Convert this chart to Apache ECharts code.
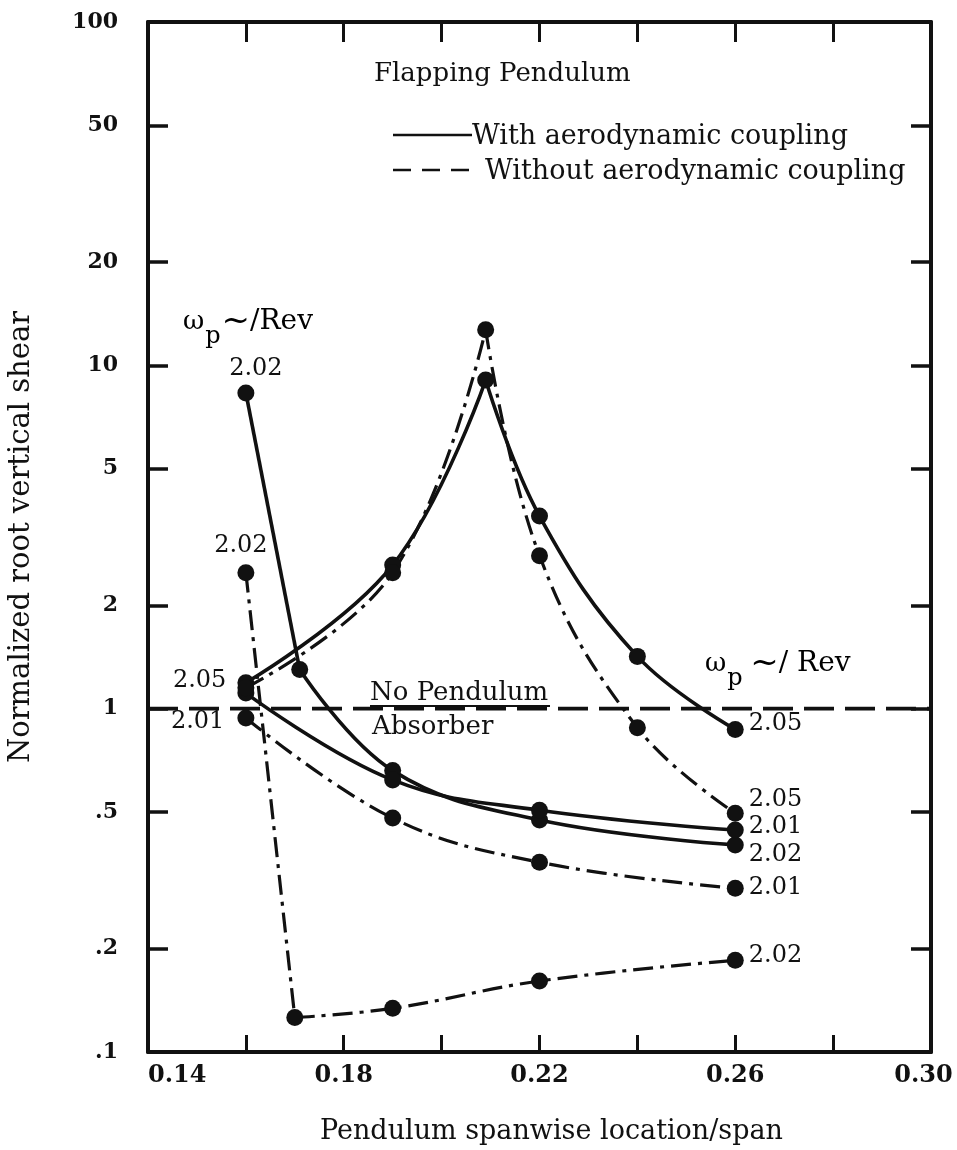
<!DOCTYPE html>
<html>
<head>
<meta charset="utf-8">
<script src="https://cdn.jsdelivr.net/npm/echarts@6/dist/echarts.min.js"></script>
<style>
html,body{margin:0;padding:0;background:#ffffff;}
#chart{width:957px;height:1150px;}
</style>
</head>
<body>
<div id="chart"></div>
<script>
// ---------------- data ----------------
const xLabelValues = [0.14, 0.18, 0.22, 0.26, 0.30];
const xTickValues  = [0.16, 0.18, 0.20, 0.22, 0.24, 0.26, 0.28];
const yLabelValues = [0.1, 0.2, 0.5, 1, 2, 5, 10, 20, 50, 100];
const yLabelTexts  = ['.1', '.2', '.5', '1', '2', '5', '10', '20', '50', '100'];
const yTickValues  = [0.2, 0.5, 1, 2, 5, 10, 20, 50];

// With aerodynamic coupling (solid)
const withCoupling205X = [0.16, 0.19, 0.209, 0.22, 0.24, 0.26];
const withCoupling205Y = [1.19, 2.62, 9.06, 3.64, 1.42, 0.87];
const withCoupling202X = [0.16, 0.171, 0.19, 0.22, 0.26];
const withCoupling202Y = [8.31, 1.30, 0.66, 0.474, 0.401];
const withCoupling201X = [0.16, 0.19, 0.22, 0.26];
const withCoupling201Y = [1.11, 0.62, 0.506, 0.443];

// Without aerodynamic coupling (dash-dot)
const withoutCoupling205X = [0.16, 0.19, 0.209, 0.22, 0.24, 0.26];
const withoutCoupling205Y = [1.15, 2.49, 12.7, 2.79, 0.88, 0.496];
const withoutCoupling202X = [0.16, 0.17, 0.19, 0.22, 0.26];
const withoutCoupling202Y = [2.49, 0.126, 0.134, 0.161, 0.185];
const withoutCoupling201X = [0.16, 0.19, 0.22, 0.26];
const withoutCoupling201Y = [0.94, 0.48, 0.357, 0.300];

// No pendulum absorber reference level
const noPendulumX = [0.14, 0.30];
const noPendulumY = [1, 1];

const freq205 = '2.05', freq202 = '2.02', freq201 = '2.01';

// ---------------- styling ----------------
const INK = '#111111';
const SERIF = '"DejaVu Serif", "Liberation Serif", serif';
const SOLID = 'solid';
const DASHDOT = [20, 7, 4, 7];

const curves = [
  { xs: withCoupling205X, ys: withCoupling205Y, dash: SOLID,
    start: { text: freq205, position: 'left', distance: 11, offset: [0, -2] },
    end: { text: freq205, offset: [0, -6] } },
  { xs: withCoupling202X, ys: withCoupling202Y, dash: SOLID, kinks: [1],
    start: { text: freq202, position: 'top', distance: 4, offset: [10, 0] },
    end: { text: freq202, offset: [0, 10] } },
  { xs: withCoupling201X, ys: withCoupling201Y, dash: SOLID,
    end: { text: freq201, offset: [0, -3] } },
  { xs: withoutCoupling205X, ys: withoutCoupling205Y, dash: DASHDOT,
    end: { text: freq205, offset: [0, -13] } },
  { xs: withoutCoupling202X, ys: withoutCoupling202Y, dash: DASHDOT,
    start: { text: freq202, position: 'top', distance: 6, offset: [-5, 0] },
    end: { text: freq202, offset: [0, -5] } },
  { xs: withoutCoupling201X, ys: withoutCoupling201Y, dash: DASHDOT,
    start: { text: freq201, position: 'left', distance: 13, offset: [0, 4] },
    end: { text: freq201, offset: [0, 0] } }
];

// split a curve at interior extrema (and at listed kinks) so each branch is smoothed separately
function branches(xs, ys, kinks) {
  const out = [];
  let cur = [[xs[0], ys[0]]];
  for (let i = 1; i < xs.length; i++) {
    cur.push([xs[i], ys[i]]);
    const interior = i < xs.length - 1;
    const extremum = interior && (ys[i] - ys[i - 1]) * (ys[i + 1] - ys[i]) < 0;
    const kink = interior && kinks && kinks.indexOf(i) >= 0;
    if (extremum || kink) {
      out.push(cur);
      cur = [[xs[i], ys[i]]];
    }
  }
  out.push(cur);
  return out;
}

const labelFont = { fontFamily: SERIF, fontSize: 24, color: INK };

const series = [];
series.push({
  type: 'line', silent: true, showSymbol: false, z: 2,
  data: noPendulumX.map((x, i) => [x, noPendulumY[i]]),
  lineStyle: { color: INK, width: 3.6, type: [30, 11], opacity: 1 }
});

curves.forEach(c => {
  branches(c.xs, c.ys, c.kinks).forEach(seg => {
    series.push({
      type: 'line', smooth: 0.4, showSymbol: false, silent: true, z: 3,
      data: seg,
      lineStyle: { color: INK, width: c.dash === SOLID ? 3.6 : 3.2, type: c.dash, cap: 'butt', opacity: 1 }
    });
  });
  const n = c.xs.length;
  series.push({
    type: 'scatter', symbol: 'circle', symbolSize: 17, z: 4, silent: true,
    itemStyle: { color: INK, opacity: 1 },
    data: c.xs.map((x, i) => {
      const item = { value: [x, c.ys[i]] };
      let lab = null;
      if (i === 0 && c.start) lab = c.start;
      if (i === n - 1 && c.end) lab = Object.assign({ position: 'right', distance: 5 }, c.end);
      if (lab) {
        item.label = Object.assign({ show: true, formatter: lab.text }, labelFont, {
          position: lab.position, distance: lab.distance, offset: lab.offset
        });
      }
      return item;
    })
  });
});

// ---------------- axes ----------------
const frame = { show: true, lineStyle: { color: INK, width: 4 } };
const yFmt = v => {
  const i = yLabelValues.findIndex(t => Math.abs(t - v) <= 1e-6 * t);
  return i >= 0 ? yLabelTexts[i] : '';
};
const xMax = xLabelValues[xLabelValues.length - 1];
const xFmt = v => Math.abs(v - xMax) < 1e-9 ? '{e|' + v.toFixed(2) + '}' : v.toFixed(2);
const txt = (x, y, text, size, extra) => ({
  type: 'text', x: x, y: y, silent: true,
  style: Object.assign({ text: text, font: size + 'px ' + SERIF, fill: INK,
    textVerticalAlign: 'middle', verticalAlign: 'middle' }, extra || {})
});
const omegaRich = {
  w: { fontFamily: SERIF, fontSize: 26, color: INK },
  p: { fontFamily: SERIF, fontSize: 24, color: INK, padding: [30, 1, 0, 1] },
  t: { fontFamily: SERIF, fontSize: 34, color: INK },
  r: { fontFamily: SERIF, fontSize: 28, color: INK }
};

const option = {
  animation: false,
  backgroundColor: '#ffffff',
  grid: { left: 148, right: 26, top: 22, bottom: 98, containLabel: false, outerBoundsMode: 'none' },
  xAxis: [
    {
      type: 'value', min: 0.14, max: 0.30, interval: 0.02, position: 'bottom',
      axisLine: frame,
      axisTick: { show: true, inside: true, length: 17, lineStyle: { color: INK, width: 3 }, customValues: xTickValues },
      axisLabel: { show: true, customValues: xLabelValues, formatter: xFmt,
        fontFamily: SERIF, fontWeight: 'bold', fontSize: 24, color: INK, margin: 12,
        alignMinLabel: 'left', alignMaxLabel: 'center',
        rich: { e: { fontFamily: SERIF, fontWeight: 'bold', fontSize: 24, color: INK, padding: [0, 15, 0, 0] } } },
      splitLine: { show: false },
      name: 'Pendulum spanwise location/span', nameLocation: 'middle', nameGap: 66,
      nameTextStyle: { fontFamily: SERIF, fontSize: 27, color: INK, padding: [0, 0, 0, 24] }
    },
    {
      type: 'value', min: 0.14, max: 0.30, interval: 0.02, position: 'top',
      axisLine: frame,
      axisTick: { show: true, inside: true, length: 20, lineStyle: { color: INK, width: 3 }, customValues: xTickValues },
      axisLabel: { show: false }, splitLine: { show: false }
    }
  ],
  yAxis: [
    {
      type: 'log', logBase: 10, min: 0.1, max: 100, position: 'left',
      axisLine: frame,
      axisTick: { show: true, inside: true, length: 20, lineStyle: { color: INK, width: 3.5 }, customValues: yTickValues },
      axisLabel: { show: true, customValues: yLabelValues, formatter: yFmt,
        fontFamily: SERIF, fontWeight: 'bold', fontSize: 22, color: INK, margin: 30 },
      minorTick: { show: false }, splitLine: { show: false },
      name: 'Normalized root vertical shear', nameLocation: 'middle', nameGap: 112, nameRotate: 90,
      nameTextStyle: { fontFamily: SERIF, fontSize: 29, color: INK }
    },
    {
      type: 'log', logBase: 10, min: 0.1, max: 100, position: 'right',
      axisLine: frame,
      axisTick: { show: true, inside: true, length: 20, lineStyle: { color: INK, width: 3.5 }, customValues: yTickValues },
      axisLabel: { show: false }, minorTick: { show: false }, splitLine: { show: false }
    }
  ],
  series: series.map(s => Object.assign({ xAxisIndex: 0, yAxisIndex: 0 }, s)),
  graphic: [
    txt(374, 74, 'Flapping Pendulum', 26),
    // legend
    { type: 'line', silent: true, shape: { x1: 393, y1: 135, x2: 472, y2: 135 }, style: { stroke: INK, lineWidth: 2.5 } },
    txt(472, 137, 'With aerodynamic coupling', 27),
    { type: 'line', silent: true, shape: { x1: 393, y1: 170, x2: 472, y2: 170 }, style: { stroke: INK, lineWidth: 2.5, lineDash: [18, 11] } },
    txt(485, 172, 'Without aerodynamic coupling', 27),
    // omega_p ~/Rev labels
    { type: 'text', x: 183, y: 322, silent: true,
      style: { text: '{w|ω}{p|p}{t|~}{r|/Rev}', rich: omegaRich, verticalAlign: 'middle', textVerticalAlign: 'middle' } },
    { type: 'text', x: 705, y: 664, silent: true,
      style: { text: '{w|ω}{p|p}  {t|~}{r|/ Rev}', rich: omegaRich, verticalAlign: 'middle', textVerticalAlign: 'middle' } },
    // No Pendulum Absorber
    txt(370, 693, 'No Pendulum', 26),
    { type: 'line', silent: true, shape: { x1: 370, y1: 706, x2: 550, y2: 706 }, style: { stroke: INK, lineWidth: 2 } },
    txt(372, 727, 'Absorber', 26)
  ]
};

const chart = echarts.init(document.getElementById('chart'), null, { renderer: 'canvas' });
chart.setOption(option);
</script>
</body>
</html>
